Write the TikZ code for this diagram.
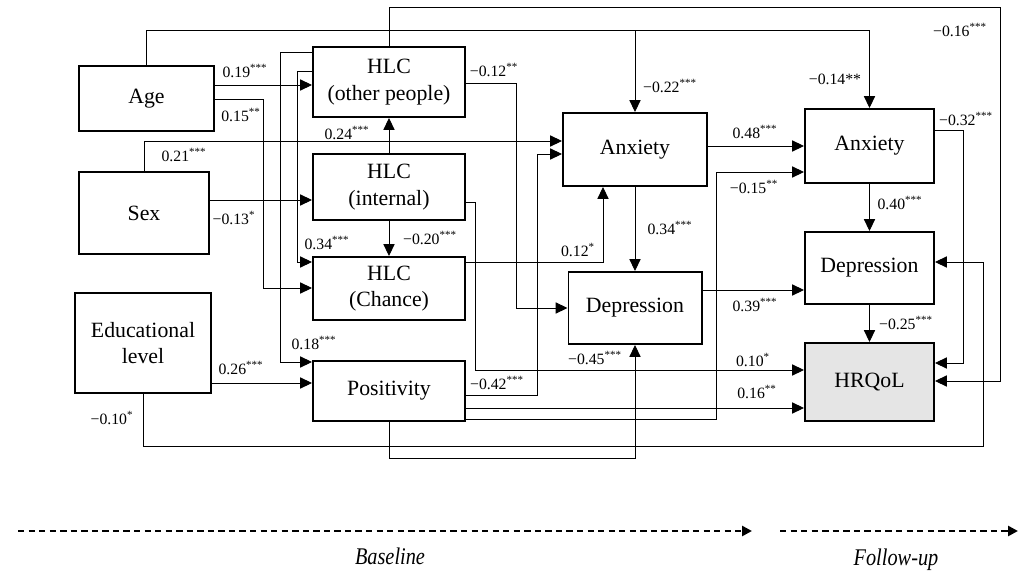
\documentclass[tikz,border=0pt]{standalone}
\usepackage{fontspec}
\setmainfont{Liberation Serif}
\usetikzlibrary{arrows.meta}
\newcommand{\sig}[1]{\textsuperscript{#1}}
\begin{document}
\begin{tikzpicture}[x=0.025cm,y=-0.025cm,
  box/.style={draw,line width=1.4pt,inner sep=0pt,align=center,font=\fontsize{15.5}{19}\selectfont},
  conn/.style={line width=0.65pt,-{Triangle[length=8.5pt,width=8pt]}},
  lab/.style={inner sep=0pt,font=\fontsize{11.2}{13}\selectfont},
  time/.style={line width=2pt,dash pattern=on 4.5pt off 3pt,-{Triangle[length=7pt,width=7pt]}},
  period/.style={font=\fontsize{17}{20}\selectfont\itshape}]
\useasboundingbox (0,0) rectangle (1022,572);
% baseline
\node[box,minimum width=3.375cm,minimum height=1.625cm] (age) at (146.5,98.5) {Age};
\node[box,minimum width=3.25cm,minimum height=2.05cm] (sex) at (144,213) {Sex};
\node[box,minimum width=3.4cm,minimum height=2.5cm] (edu) at (143,343) {Educational\\level};
\node[box,minimum width=3.8cm,minimum height=1.75cm] (hlcO) at (389,82) {HLC\\(other people)};
\node[box,minimum width=3.8cm,minimum height=1.65cm] (hlcI) at (389,187) {HLC\\(internal)};
\node[box,minimum width=3.8cm,minimum height=1.575cm] (hlcC) at (389,288.5) {HLC\\(Chance)};
\node[box,minimum width=3.8cm,minimum height=1.5cm] (pos) at (389,391) {Positivity};
\node[box,minimum width=3.6cm,minimum height=1.825cm] (anx) at (635,149.5) {Anxiety};
\node[box,minimum width=3.325cm,minimum height=1.8cm] (dep) at (635,308) {Depression};
% follow-up
\node[box,minimum width=3.225cm,minimum height=1.85cm] (anxF) at (869.5,146) {Anxiety};
\node[box,minimum width=3.225cm,minimum height=1.8cm] (depF) at (869.5,268) {Depression};
\node[box,minimum width=3.225cm,minimum height=1.95cm,fill=black!10] (hrq) at (869.5,382) {HRQoL};

% socio-demographics
\draw[conn] (age.north) |- (anxF.north |- 0,30) -- (anxF.north);
\draw[conn] (age.north) |- (anx.north |- 0,30) -- (anx.north);
\draw[conn] (age.east |- 0,85) -- (hlcO.west |- 0,85);
\draw[conn] (age.east |- 0,99) -- (263,99) |- (hlcC.west |- 0,288);
\draw[conn] (sex.north) |- (anx.west |- 0,141);
\draw[conn] (sex.east |- 0,200) -- (hlcI.west |- 0,200);
\draw[conn] (edu.east |- 0,383) -- (pos.west |- 0,383);
\draw[conn] (edu.south) |- (983,446) |- (depF.east |- 0,262);
% locus of control
\draw[conn] (hlcI.north) -- (hlcO.south);
\draw[conn] (hlcI.south) -- (hlcC.north);
\draw[conn] (hlcO.west |- 0,52) -- (280,52) |- (pos.west |- 0,362);
\draw[conn] (hlcO.west |- 0,71) -- (297,71) |- (hlcC.west |- 0,262);
\draw[conn] (hlcO.north) |- (1000,7) |- (hrq.east |- 0,381);
\draw[conn] (hlcO.east |- 0,83) -- (516,83) |- (dep.west);
\draw[conn] (hlcI.east |- 0,202) -- (475,202) |- (hrq.west |- 0,370);
\draw[conn] (hlcC.east |- 0,262) -| (anx.south -| 603,0);
% positivity
\draw[conn] (pos.east |- 0,395) -- (537,395) |- (anx.west |- 0,154);
\draw[conn] (pos.east |- 0,408) -- (hrq.west |- 0,408);
\draw[conn] (pos.east |- 0,419) -- (716,419) |- (anxF.west |- 0,172);
\draw[conn] (pos.south) |- (dep.south |- 0,458) -- (dep.south);
% symptoms
\draw[conn] (anx.east |- 0,146) -- (anxF.west |- 0,146);
\draw[conn] (anx.south) -- (dep.north);
\draw[conn] (dep.east |- 0,290) -- (depF.west |- 0,290);
\draw[conn] (anxF.south) -- (depF.north);
\draw[conn] (depF.south) -- (hrq.north);
\draw[conn] (anxF.east |- 0,130) -- (963,130) |- (hrq.east |- 0,363);

% weights
\node[lab] (w19) at (245,71) {0.19\sig{***}};
\node[lab] (w15) at (241,115) {0.15\sig{**}};
\node[lab] (w21) at (184,155) {0.21\sig{***}};
\node[lab] (w13) at (234,218) {−0.13\sig{*}};
\node[lab] (w26) at (241,368) {0.26\sig{***}};
\node[lab] (w10e) at (112,418) {−0.10\sig{*}};
\node[lab] (w24) at (347,133) {0.24\sig{***}};
\node[lab] (w20) at (430,238) {−0.20\sig{***}};
\node[lab] (w18) at (314,343) {0.18\sig{***}};
\node[lab] (w34c) at (327,243) {0.34\sig{***}};
\node[lab] (w12) at (494,70) {−0.12\sig{**}};
\node[lab] (w10) at (753,360) {0.10\sig{*}};
\node[lab] (w12c) at (578,250) {0.12\sig{*}};
\node[lab] (w42) at (497,383) {−0.42\sig{***}};
\node[lab] (w16p) at (757,392) {0.16\sig{**}};
\node[lab] (w15f) at (754,187) {−0.15\sig{**}};
\node[lab] (w48) at (755,132) {0.48\sig{***}};
\node[lab] (w34) at (670,228) {0.34\sig{***}};
\node[lab] (w39) at (755,305) {0.39\sig{***}};
\node[lab] (w45) at (595,358) {−0.45\sig{***}};
\node[lab] (w40) at (900,203) {0.40\sig{***}};
\node[lab] (w25) at (906,323) {−0.25\sig{***}};
\node[lab] (w32) at (966,119) {−0.32\sig{***}};
\node[lab] (w16) at (960,30) {−0.16\sig{***}};
\node[lab] (w14) at (835,79) {−0.14**};
\node[lab] (w22) at (670,86) {−0.22\sig{***}};

% time axis
\coordinate (b0) at (18,531);
\coordinate (b1) at (752,531);
\coordinate (f0) at (780,531);
\coordinate (f1) at (1018,531);
\draw[time] (b0) -- (b1);
\draw[time] (f0) -- (f1);
\node[period] (base) at (390,556) {\scalebox{0.85}[1]{Baseline}};
\node[period] (fol) at (896,560) {\scalebox{0.85}[1]{Follow-up}};
\end{tikzpicture}
\end{document}
